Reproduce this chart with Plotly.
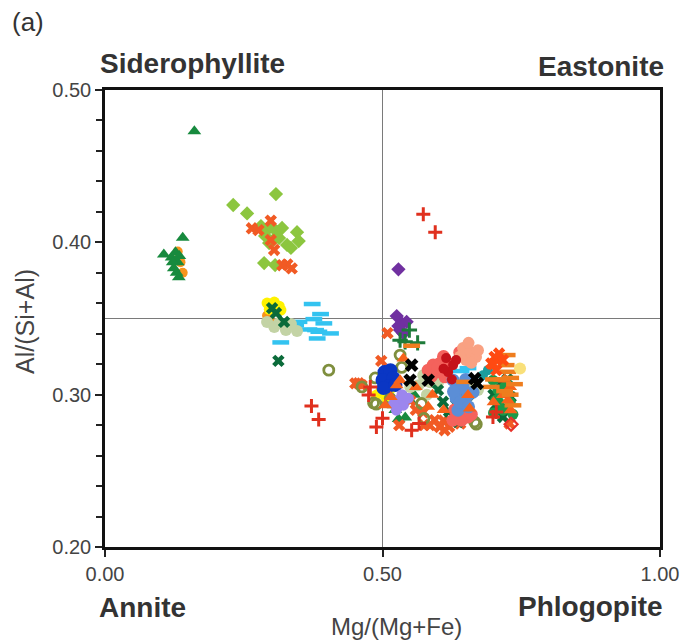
import plotly.graph_objects as go

# ---------------- data ----------------
# dark green triangles
tri_dg_x = [0.161, 0.140, 0.106, 0.120, 0.127, 0.131, 0.124, 0.134, 0.129, 0.122, 0.133,
            0.543, 0.541, 0.523, 0.520, 0.550, 0.557, 0.529]
tri_dg_y = [0.473, 0.403, 0.392, 0.390, 0.3935, 0.387, 0.383, 0.391, 0.380, 0.387, 0.377,
            0.298, 0.285, 0.290, 0.293, 0.296, 0.300, 0.284]
# orange circles
circ_or_x = [0.131, 0.140, 0.136, 0.301, 0.292]
circ_or_y = [0.394, 0.380, 0.387, 0.347, 0.352]
# light green diamonds
dia_lg_x = [0.231, 0.308, 0.256, 0.346, 0.349, 0.281, 0.292, 0.299, 0.310, 0.2885, 0.303,
            0.319, 0.328, 0.335, 0.3136, 0.2957, 0.2867, 0.3065]
dia_lg_y = [0.4245, 0.4317, 0.419, 0.4067, 0.4008, 0.4107, 0.4081, 0.4107, 0.4068, 0.4042, 0.4015,
            0.4094, 0.3983, 0.3963, 0.4028, 0.3995, 0.3864, 0.3851]
# orange-red crosses (x)
x_or_x = [0.2646, 0.2987, 0.2987, 0.3047, 0.3285, 0.3364, 0.2765, 0.3195,
          0.509, 0.4977, 0.457, 0.4624, 0.451,
          0.594, 0.612, 0.603, 0.729, 0.5735, 0.627, 0.585,
          0.560, 0.575, 0.610, 0.620, 0.640, 0.550, 0.530]
x_or_y = [0.4092, 0.4142, 0.4015, 0.395, 0.3855, 0.3829, 0.408, 0.385,
          0.3404, 0.3222, 0.3075, 0.3062, 0.3074,
          0.2833, 0.2767, 0.2788, 0.2811, 0.2885, 0.2866, 0.2800,
          0.290, 0.280, 0.283, 0.279, 0.281, 0.296, 0.280]
# red plus
plus_r_x = [0.5735, 0.595, 0.372, 0.385, 0.478, 0.500, 0.489, 0.5525, 0.475, 0.699, 0.705, 0.566]
plus_r_y = [0.4185, 0.4067, 0.2926, 0.2837, 0.3051, 0.2846, 0.2787, 0.2767, 0.2997, 0.2854, 0.2887, 0.2810]
# sky-blue dashes
dash_cy_x = [0.3733, 0.3884, 0.3763, 0.3943, 0.3674, 0.3794, 0.3853, 0.4063, 0.3823, 0.3167,
             0.3315, 0.3435, 0.3495, 0.6416, 0.654]
dash_cy_y = [0.3595, 0.3529, 0.3496, 0.3468, 0.3428, 0.3424, 0.3413, 0.3402, 0.3369, 0.3343,
             0.3461, 0.3457, 0.3478, 0.3155, 0.3174]
# yellow symbols
yel_x = [0.292, 0.305, 0.314, 0.296, 0.317, 0.4964, 0.507, 0.489, 0.516]
yel_y = [0.3601, 0.3608, 0.3581, 0.356, 0.3555, 0.3016, 0.2977, 0.2997, 0.3043]
# sage circles
sage_x = [0.292, 0.305, 0.326, 0.346, 0.3136, 0.335, 0.5735, 0.586, 0.5645, 0.595, 0.6595, 0.672,
          0.580, 0.550, 0.600]
sage_y = [0.3477, 0.3444, 0.3424, 0.3418, 0.347, 0.3464, 0.3128, 0.3082, 0.3062, 0.3109, 0.305, 0.303,
          0.300, 0.305, 0.308]
# dark green x
x_dg_x = [0.3124, 0.301, 0.308, 0.3226, 0.600, 0.633, 0.636, 0.609, 0.713, 0.731, 0.717, 0.704,
          0.620, 0.655, 0.700, 0.720, 0.725]
x_dg_y = [0.3222, 0.3568, 0.3536, 0.3478, 0.303, 0.2975, 0.2821, 0.2953, 0.3076, 0.2984, 0.2854, 0.2930,
          0.289, 0.300, 0.300, 0.292, 0.310]
# olive open circles
circ_ol_x = [0.4032, 0.4869, 0.5317, 0.5346, 0.4629, 0.4839, 0.4887, 0.5138, 0.5704, 0.5747,
             0.6093, 0.669, 0.666]
circ_ol_y = [0.3161, 0.311, 0.326, 0.3179, 0.3051, 0.2946, 0.2938, 0.2975, 0.2942, 0.2844,
             0.3205, 0.2806, 0.2821]
# purple diamonds
dia_pu_x = [0.5287, 0.5256, 0.535, 0.5435, 0.5317, 0.5376, 0.5287]
dia_pu_y = [0.3823, 0.3516, 0.3468, 0.3478, 0.3424, 0.3402, 0.345]
# dark green plus
plus_dg_x = [0.5484, 0.5317, 0.5407, 0.5633]
plus_dg_y = [0.3424, 0.3358, 0.3347, 0.334]
# orange dashes
dash_or_x = [0.5525, 0.7246, 0.7228, 0.7258, 0.6959, 0.7378, 0.72, 0.648, 0.731,
             0.715, 0.730, 0.700, 0.735]
dash_or_y = [0.3321, 0.326, 0.3194, 0.315, 0.3051, 0.3069, 0.3023, 0.3084, 0.3110,
             0.310, 0.300, 0.310, 0.293]
# blue circles
circ_bl_x = [0.5036, 0.5143, 0.500, 0.5197, 0.5108, 0.5018, 0.5233]
circ_bl_y = [0.3148, 0.3161, 0.3096, 0.3109, 0.3056, 0.3043, 0.3063]
# orange triangles
tri_or_x = [0.5376, 0.5256, 0.5317, 0.5048, 0.731, 0.654, 0.657, 0.5824, 0.717, 0.726, 0.515,
            0.720, 0.730, 0.700, 0.610, 0.590, 0.560]
tri_or_y = [0.3238, 0.3062, 0.3095, 0.2931, 0.2898, 0.2997, 0.291, 0.292, 0.2997, 0.2964, 0.2985,
            0.310, 0.305, 0.295, 0.290, 0.300, 0.305]
# coral circles
circ_co_x = [0.5914, 0.6034, 0.6392, 0.6124, 0.6541, 0.6421, 0.5824, 0.627, 0.598,
             0.600, 0.610, 0.622, 0.588, 0.650, 0.660, 0.630]
circ_co_y = [0.3194, 0.3205, 0.3277, 0.3117, 0.2854, 0.2832, 0.3161, 0.2832, 0.3150,
             0.318, 0.325, 0.320, 0.312, 0.290, 0.287, 0.290]
# light salmon circles
circ_ls_x = [0.6452, 0.6577, 0.6685, 0.6505, 0.672, 0.660, 0.655, 0.640]
circ_ls_y = [0.3306, 0.328, 0.3247, 0.3227, 0.3292, 0.321, 0.334, 0.325]
# steel blue circles
circ_sb_x = [0.6272, 0.6398, 0.654, 0.6326, 0.647, 0.663, 0.636, 0.645, 0.628, 0.650, 0.640, 0.655]
circ_sb_y = [0.3095, 0.3043, 0.2997, 0.2977, 0.293, 0.3016, 0.2898, 0.305, 0.302, 0.310, 0.295, 0.292]
# dark red symbols
dred_x = [0.6147, 0.6272, 0.6183, 0.6326, 0.625, 0.610]
dred_y = [0.324, 0.3194, 0.3148, 0.3227, 0.310, 0.317]
# teal circles
teal_x = [0.690, 0.681]
teal_y = [0.3161, 0.3128]
# lavender circles
lav_x = [0.5287, 0.5376, 0.5466, 0.525, 0.535, 0.520]
lav_y = [0.2964, 0.2931, 0.2977, 0.2898, 0.300, 0.294]
# pale yellow circle
pyel_x = [0.7478]
pyel_y = [0.3172]
# green circles (right cluster)
circ_gr_x = [0.699, 0.708, 0.717, 0.726, 0.704, 0.735, 0.710, 0.720, 0.730, 0.700]
circ_gr_y = [0.3095, 0.303, 0.2898, 0.3062, 0.2964, 0.2871, 0.295, 0.305, 0.295, 0.288]
# red-orange x (right cluster)
x_ro_x = [0.702, 0.696, 0.705, 0.717, 0.700, 0.710]
x_ro_y = [0.3248, 0.3205, 0.3161, 0.3227, 0.320, 0.327]
# red open diamond
dia_ro_x = [0.7317]
dia_ro_y = [0.2806]
# black x
x_bk_x = [0.5525, 0.5497, 0.5824, 0.6661, 0.6708]
x_bk_y = [0.3194, 0.3095, 0.3095, 0.3106, 0.3074]

# ---------------- styles ----------------
series = [
    (circ_or_x, circ_or_y, "circle", "#f7941d", 10, None),
    (tri_dg_x, tri_dg_y, "triangle-up", "#178a3e", 12, None),
    (dia_lg_x, dia_lg_y, "diamond", "#8cc63f", 11, None),
    (x_or_x, x_or_y, "x", "#f15a24", 11, None),
    (dash_cy_x, dash_cy_y, "line-ew", "#33c3f0", 12, 4.5),
    (sage_x, sage_y, "circle", "#c3d3a5", 12, None),
    (yel_x, yel_y, "circle", "#fff200", 11, None),
    (x_dg_x, x_dg_y, "x", "#0b6b3a", 11, None),
    (circ_ol_x, circ_ol_y, "circle-open", "#7f8f3e", 10, 2.8),
    (dia_pu_x, dia_pu_y, "diamond", "#7030a0", 11, None),
    (plus_dg_x, plus_dg_y, "cross-thin-open", "#1e7b3a", 11, 3),
    (circ_bl_x, circ_bl_y, "circle", "#0a36c4", 14, None),
    (lav_x, lav_y, "circle", "#9c86ee", 11, None),
    (circ_co_x, circ_co_y, "circle", "#f4625c", 13, None),
    (circ_ls_x, circ_ls_y, "circle", "#f9a182", 12, None),
    (circ_sb_x, circ_sb_y, "circle", "#5b8ed6", 13, None),
    (dred_x, dred_y, "circle", "#c4121a", 10, None),
    (teal_x, teal_y, "circle", "#1a9d9d", 10, None),
    (circ_gr_x, circ_gr_y, "circle", "#1a9a48", 11, None),
    (tri_or_x, tri_or_y, "triangle-up", "#f7631b", 12, None),
    (dash_or_x, dash_or_y, "line-ew", "#ee7d1e", 12, 4.5),
    (x_ro_x, x_ro_y, "x", "#ff4a12", 11, None),
    (plus_r_x, plus_r_y, "cross-thin-open", "#e0301e", 10, 3),
    (dia_ro_x, dia_ro_y, "diamond-open", "#e8312a", 10, 2.2),
    (pyel_x, pyel_y, "circle", "#f9e07a", 12, None),
    (x_bk_x, x_bk_y, "x", "#000000", 12, None),
]

fig = go.Figure()
for xs, ys, sym, col, size, lw in series:
    marker = dict(symbol=sym, color=col, size=size)
    if lw is not None:
        marker["line"] = dict(color=col, width=lw)
    else:
        marker["line"] = dict(width=0)
    fig.add_trace(go.Scatter(x=xs, y=ys, mode="markers", marker=marker,
                             showlegend=False, hoverinfo="skip"))

# quadrant lines
fig.add_shape(type="line", x0=0.5, x1=0.5, y0=0.2, y1=0.5, xref="x", yref="y",
              line=dict(color="#7a7a7a", width=1), layer="below")
fig.add_shape(type="line", x0=0, x1=1, y0=0.35, y1=0.35, xref="x", yref="y",
              line=dict(color="#7a7a7a", width=1), layer="below")

FONT = "Liberation Sans, Arial, sans-serif"
TXT = "#333333"

fig.update_layout(
    width=691, height=643,
    margin=dict(l=105, r=28, t=90, b=96),
    paper_bgcolor="white", plot_bgcolor="white",
    font=dict(family=FONT, color="#444444", size=19),
    xaxis=dict(range=[0, 1], tickvals=[0, 0.5, 1.0], ticktext=["0.00", "0.50", "1.00"],
               ticks="outside", ticklen=7, tickwidth=1.5, tickcolor="#222",
               showline=True, linewidth=2.5, linecolor="#111", mirror=True,
               showgrid=False, zeroline=False, tickfont=dict(size=20, color="#444")),
    yaxis=dict(range=[0.2, 0.5], tickvals=[0.2, 0.3, 0.4, 0.5],
               ticktext=["0.20", "0.30", "0.40", "0.50"],
               ticks="outside", ticklen=7, tickwidth=1.5, tickcolor="#222",
               minor=dict(dtick=0.02, ticks="outside", ticklen=6, tickwidth=1.5,
                          tickcolor="#222", showgrid=False),
               showline=True, linewidth=2.5, linecolor="#111", mirror=True,
               showgrid=False, zeroline=False, tickfont=dict(size=20, color="#444")),
)

ann = [
    dict(text="(a)", x=-0.138, y=1.148, xanchor="center", yanchor="middle",
         font=dict(size=26, color=TXT)),
    dict(text="<b>Siderophyllite</b>", x=-0.0125, y=1.059, xanchor="left", yanchor="middle",
         font=dict(size=28, color=TXT)),
    dict(text="<b>Eastonite</b>", x=1.0108, y=1.052, xanchor="right", yanchor="middle",
         font=dict(size=28, color=TXT)),
    dict(text="<b>Annite</b>", x=-0.0143, y=-0.132, xanchor="left", yanchor="middle",
         font=dict(size=28, color=TXT)),
    dict(text="<b>Phlogopite</b>", x=1.009, y=-0.130, xanchor="right", yanchor="middle",
         font=dict(size=28, color=TXT)),
    dict(text="Mg/(Mg+Fe)", x=0.525, y=-0.174, xanchor="center", yanchor="middle",
         font=dict(size=24, color="#444")),
    dict(text="Al/(Si+Al)", x=-0.143, y=0.494, xanchor="center", yanchor="middle",
         textangle=-90, font=dict(size=25, color="#444")),
]
for a in ann:
    a.update(xref="paper", yref="paper", showarrow=False)
    fig.add_annotation(**a)

fig.write_html("out.html")
